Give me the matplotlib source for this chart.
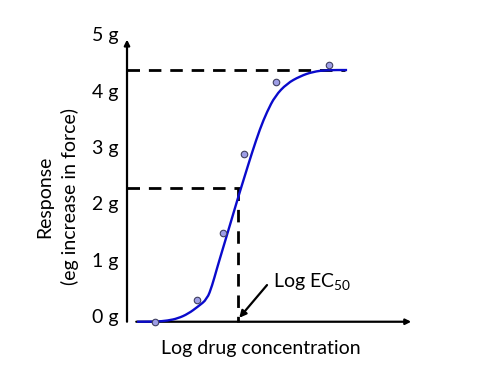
import matplotlib
matplotlib.use("Agg")
import matplotlib.pyplot as plt
from matplotlib.path import Path
from matplotlib.patches import PathPatch

plt.rcParams['font.family'] = ['Lato', 'DejaVu Sans']

# Fitted curve, x = log concentration (arbitrary units), y = response (g)
curve_x = [0.36, 1.0, 1.46, 1.82, 2.18, 2.54, 2.86, 3.04, 3.21, 3.39, 3.68, 3.96,
           4.21, 4.46, 4.75, 5.0, 5.29, 5.71, 6.18, 6.64, 7.14, 7.86]
curve_y = [-0.02, -0.02, 0.0, 0.04, 0.12, 0.25, 0.38, 0.62, 0.92, 1.22, 1.70, 2.17,
           2.57, 2.97, 3.40, 3.70, 3.98, 4.20, 4.33, 4.41, 4.44, 4.44]

# Observed data points
pts_x = [1.0, 2.5, 3.43, 4.18, 5.32, 7.21]
pts_y = [-0.02, 0.37, 1.55, 2.95, 4.23, 4.53]

# Reference levels
max_resp = 4.44
half_resp = 2.35
log_ec50 = 3.96

ytick_vals = [0, 1, 2, 3, 4, 5]
ytick_labels = ['0 g', '1 g', '2 g', '3 g', '4 g', '5 g']

fig = plt.figure(figsize=(4.83, 3.85), dpi=100)
ax = fig.add_axes([0, 0, 1, 1])
ax.set_xlim(-4.536, 12.714)
ax.set_ylim(-1.141, 5.681)
ax.axis('off')

# axes with arrows
ax.annotate('', xy=(0, 4.98), xytext=(0, -0.02),
            arrowprops=dict(arrowstyle='-|>', color='black', lw=1.6,
                            mutation_scale=8, shrinkA=0, shrinkB=0))
ax.annotate('', xy=(10.15, -0.02), xytext=(0.33, -0.02),
            arrowprops=dict(arrowstyle='-|>', color='black', lw=1.6,
                            mutation_scale=8, shrinkA=0, shrinkB=0))

# dashed reference lines
dash = dict(color='black', lw=2.0, dashes=(4.5, 3.2))
ax.plot([0, 7.8], [max_resp, max_resp], **dash)
ax.plot([0, 4.04], [half_resp, half_resp], **dash)
ax.plot([log_ec50, log_ec50], [half_resp, -0.02], **dash)

# smooth curve through the read points (quadratic segments via midpoints)
verts = [(curve_x[0], curve_y[0])]
codes = [Path.MOVETO]
for i in range(1, len(curve_x) - 1):
    mx = (curve_x[i] + curve_x[i + 1]) / 2
    my = (curve_y[i] + curve_y[i + 1]) / 2
    verts += [(curve_x[i], curve_y[i]), (mx, my)]
    codes += [Path.CURVE3, Path.CURVE3]
verts.append((curve_x[-1], curve_y[-1]))
codes.append(Path.LINETO)
ax.add_patch(PathPatch(Path(verts, codes), facecolor='none', edgecolor='#0a0acc',
                       lw=1.7, zorder=3))

ax.scatter(pts_x, pts_y, s=22, facecolor='#9e9ee6', edgecolor='#404060',
           linewidth=0.8, zorder=4)

# y tick labels
for v, lab in zip(ytick_vals, ytick_labels):
    ax.text(-0.3, v + 0.05, lab, ha='right', va='center', fontsize=14)

# axis labels
ax.text(-2.93, 2.2, 'Response', rotation=90, ha='center', va='center', fontsize=14)
ax.text(-2.04, 2.2, '(eg increase in force)', rotation=90, ha='center', va='center', fontsize=14)
ax.text(4.77, -0.5, 'Log drug concentration', ha='center', va='center', fontsize=14)

# EC50 annotation
ax.annotate('', xy=(log_ec50 + 0.05, 0.05), xytext=(5.0, 0.63),
            arrowprops=dict(arrowstyle='-|>', color='black', lw=1.6,
                            mutation_scale=10, shrinkA=0, shrinkB=0))
ax.text(5.2, 0.67, r'Log EC$_{\mathregular{50}}$', ha='left', va='center', fontsize=14)

fig.savefig('out.png', dpi=100)
